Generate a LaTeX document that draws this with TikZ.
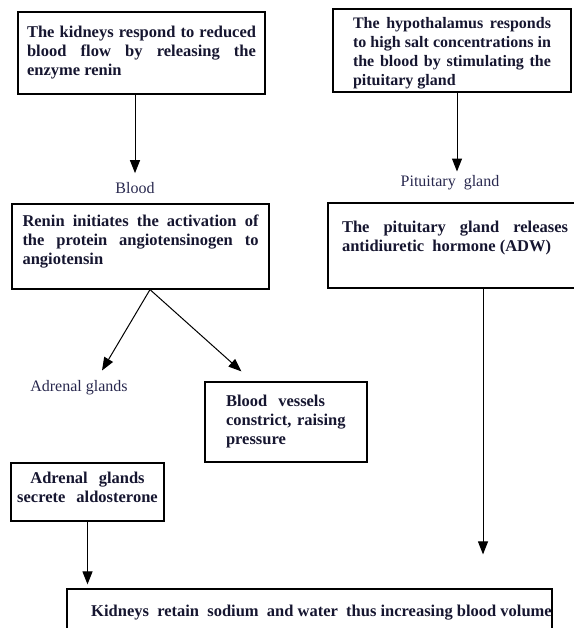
\documentclass[tikz,border=0pt]{standalone}
\usepackage{fontspec}
\setmainfont{Liberation Serif}
\usepackage{tikz}
\usetikzlibrary{arrows.meta, positioning, calc}
\definecolor{inkblue}{RGB}{22,22,48}
\definecolor{labelblue}{RGB}{40,40,78}

\begin{document}
\begin{tikzpicture}[
  x=1pt, y=-1pt,
  >={Triangle[length=13pt, width=10pt]},
  stage/.style={
    rectangle, draw=black, line width=1.2pt, inner sep=0pt,
    align=justify, text=inkblue,
    font=\bfseries\fontsize{16.5}{19}\selectfont
  },
  organ/.style={
    inner sep=0pt, text=labelblue,
    font=\fontsize{16}{19}\selectfont
  },
  flow/.style={line width=1pt, ->, color=black}
]
\useasboundingbox (0,0) rectangle (573,628);

% Top boxes
\node[stage, minimum width=247pt, minimum height=82pt, text width=229pt]
  (kid) at (141.5,53)
  {The kidneys respond to reduced\linebreak blood flow by releasing the\linebreak enzyme renin};
\node[stage, minimum width=238pt, minimum height=83pt, text width=198pt,
  font=\bfseries\fontsize{16}{18.7}\selectfont, text height=20pt, text depth=63pt]
  (hyp) at (452,50.5)
  {The hypothalamus responds\linebreak to high salt concentrations in\linebreak the blood by stimulating the\linebreak pituitary gland};

% Carrier labels
\node[organ] (blood) at (135,188) {Blood};
\node[organ] (pitlab) at (450,183) {Pituitary\ \ gland};

% Middle boxes
\node[stage, minimum width=257pt, minimum height=85pt, text width=236pt,
  text height=22pt, text depth=63pt]
  (ren) at (140.5,246.5)
  {Renin initiates the activation of\linebreak the protein angiotensinogen to\linebreak angiotensin};
\node[stage, minimum width=254pt, minimum height=85pt, text width=226pt,
  text height=29pt, text depth=56pt]
  (pit) at (455,245.5)
  {The pituitary gland releases\linebreak antidiuretic\ \ hormone (ADW)};

% Branches
\node[organ] (adrlab) at (79,388) {Adrenal glands};
\node[stage, align=left, minimum width=162pt, minimum height=80pt, text width=120pt]
  (ves) at (286,422)
  {Blood\ \ vessels\\ constrict, raising\\ pressure};
\node[stage, align=center, minimum width=153pt, minimum height=58pt, text width=145pt,
  text height=20pt, text depth=38pt]
  (adr) at (87.5,492)
  {Adrenal\ \ glands\\ secrete\ \ aldosterone};

% Final box
\node[stage, align=center, minimum width=485pt, minimum height=48pt]
  (ret) at (309.5,613)
  {\hspace*{24pt}Kidneys\ \ retain\ \ sodium\ \ and water\ \ thus increasing blood volume};

% Flow arrows
\draw[flow] (kid.south -| blood) -- ([yshift=9pt]blood.north);
\draw[flow] ([xshift=7pt]pitlab.north |- hyp.south) -- ([xshift=7pt, yshift=4pt]pitlab.north);
\draw[flow] ([xshift=9.5pt]ren.south) -- ([xshift=23pt, yshift=10pt]adrlab.north);
\draw[flow] ([xshift=9.5pt]ren.south) -- ([xshift=37pt, yshift=10pt]ves.north west);
\draw[flow] ([xshift=28pt]pit.south) -- ($(ret.north -| pit.south)+(28,-34)$);
\draw[flow] (adr.south) -- ($(adr.south |- ret.north)+(0,-4)$);

\end{tikzpicture}
\end{document}
